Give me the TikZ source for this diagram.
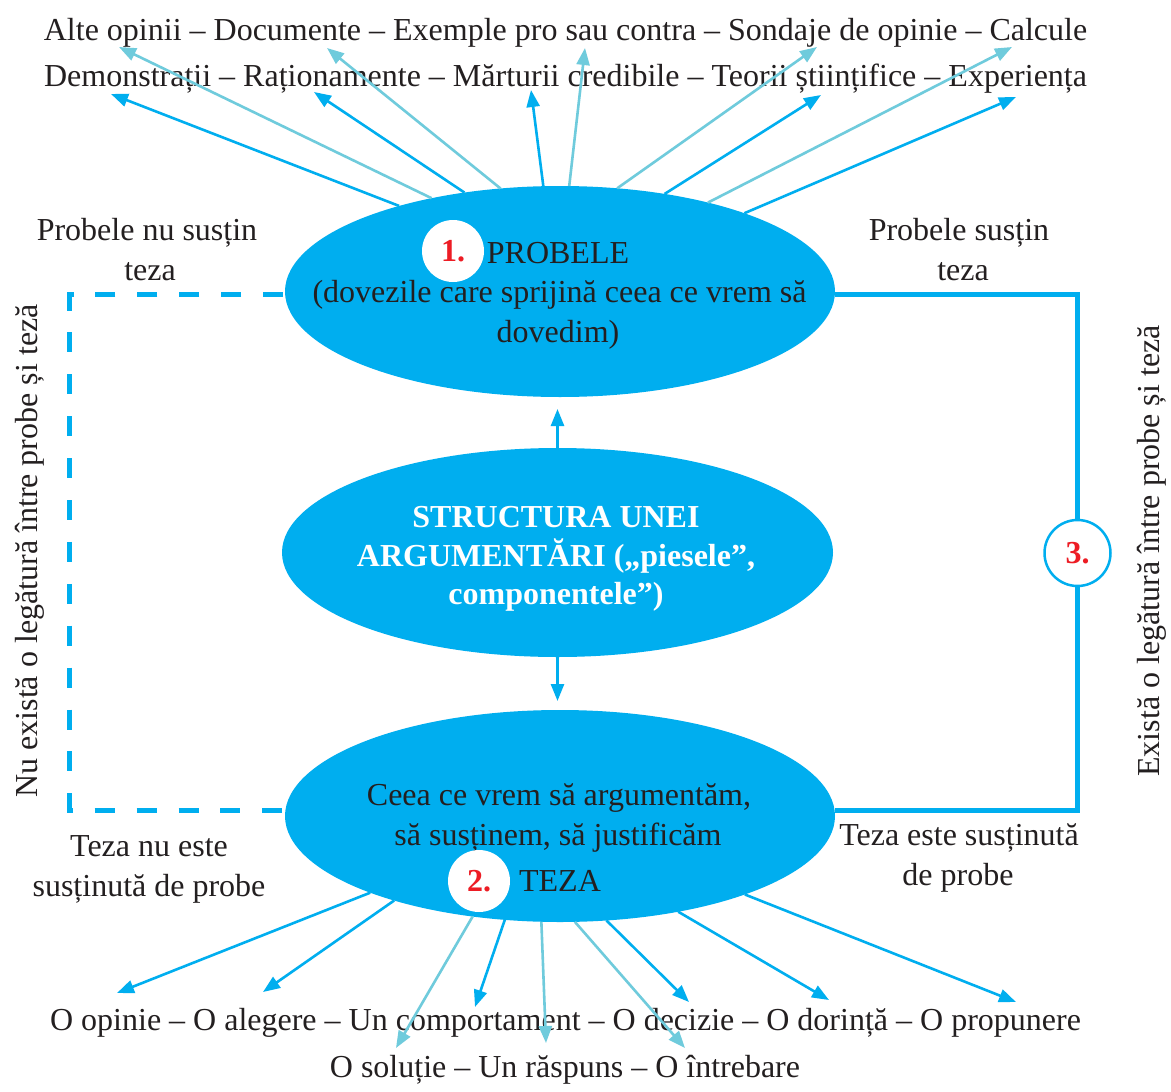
\documentclass[tikz,border=0pt]{standalone}
\usepackage{fontspec}
\setmainfont{Liberation Serif}
\usetikzlibrary{arrows.meta,shapes.geometric,backgrounds}
\definecolor{cyanB}{HTML}{00AEEF}
\definecolor{cyanL}{HTML}{6FCBDC}
\definecolor{ink}{HTML}{231F20}
\definecolor{redN}{HTML}{ED1C24}
\begin{document}
\begin{tikzpicture}[x=1pt,y=-1pt,
  txt/.style={font=\fontsize{32}{40}\selectfont, text=ink, inner sep=0pt, anchor=base},
  wtxt/.style={font=\fontsize{32}{40}\selectfont\bfseries, text=white, inner sep=0pt, anchor=base},
  oval/.style={ellipse, fill=cyanB, minimum width=550pt, minimum height=211pt, inner sep=0pt, outer sep=0pt},
  darr/.style={draw=cyanB, line width=2.6pt, -{Triangle[length=17pt,width=13pt]}},
  larr/.style={draw=cyanL, line width=2.6pt, -{Triangle[length=17pt,width=13pt]}},
  numc/.style={circle, fill=white, minimum size=62pt, inner sep=0pt, text=redN, font=\fontsize{32}{40}\selectfont\bfseries},
  link/.style={draw=cyanB, line width=5pt},
]
\fill[white] (0,0) rectangle (1171,1092);
\useasboundingbox (0,0) rectangle (1171,1092);

% ellipses
\node[oval] (probe) at (560,291.5) {};
\node[oval, minimum width=551pt, minimum height=209pt] (mid) at (557.5,552.5) {};
\node[oval, minimum height=212pt] (teza) at (560,816) {};

% helper coordinates
\coordinate (yT) at (0,294.5);
\coordinate (yB) at (0,810);
\coordinate (dl) at (69.5,550);
\coordinate (dr) at (1077.5,553);

% side connectors
\draw[link, dash pattern=on 20pt off 21.9pt, dash phase=39.9pt] (probe.west |- yT) -| (dl) |- (teza.west |- yB);
\draw[link] (probe.east |- yT) -| (dr) |- (teza.east |- yB);
\node[circle, fill=white, draw=cyanB, line width=2.5pt, minimum size=66pt, inner sep=0pt, text=redN, font=\fontsize{32}{40}\selectfont\bfseries] (n3) at (dr) {3.};

% texts top
\node[txt] (top1) at (565.5,40) {Alte opinii – Documente – Exemple pro sau contra – Sondaje de opinie – Calcule};
\node[txt] (top2) at (565.5,86) {Demonstrații – Raționamente – Mărturii credibile – Teorii științifice – Experiența};
% texts bottom
\node[txt] (bot1) at (565.5,1030) {O opinie – O alegere – Un comportament – O decizie – O dorință – O propunere};
\node[txt] (bot2) at (565,1077) {O soluție – Un răspuns – O întrebare};

% side labels
\node[txt] (l1a) at (147,240) {Probele nu susțin};
\node[txt] (l1b) at (150,280) {teza};
\node[txt] (r1a) at (959,240) {Probele susțin};
\node[txt] (r1b) at (963,280) {teza};
\node[txt] (l2a) at (149,856) {Teza nu este};
\node[txt] (l2b) at (149,896) {susținută de probe};
\node[txt] (r2a) at (959,845) {Teza este susținută};
\node[txt] (r2b) at (958,885) {de probe};
\node[txt, anchor=center, rotate=90] (vl) at (30,551) {Nu există o legătură între probe și teză};
\node[txt, anchor=center, rotate=90] (vr) at (1152,551) {Există o legătură între probe și teză};

% inside ellipses
\node[numc] (n1) at (453,251) {1.};
\node[txt] (p1) at (558,263) {PROBELE};
\node[txt] (p2) at (559.5,302) {(dovezile care sprijină ceea ce vrem să};
\node[txt] (p3) at (558,342) {dovedim)};
\node[wtxt] (m1) at (556,527) {STRUCTURA UNEI};
\node[wtxt] (m2) at (556,566) {ARGUMENTĂRI („piesele”,};
\node[wtxt] (m3) at (556,604) {componentele”)};
\node[txt] (z1) at (559,805) {Ceea ce vrem să argumentăm,};
\node[txt] (z2) at (558,845) {să susținem, să justificăm};
\node[numc] (n2) at (479,881) {2.};
\node[txt] (z3) at (560,891) {TEZA};

% middle arrows (vertical)
\draw[darr, shorten >=12pt] (mid.north) -- (mid.north |- probe.south);
\draw[darr, shorten >=9pt] (mid.south) -- (mid.south |- teza.north);

% tips top
\coordinate (t1) at (111,94);
\coordinate (t2) at (119,47);
\coordinate (t3) at (314,92);
\coordinate (t4) at (327,48);
\coordinate (t5) at (531,90);
\coordinate (t6) at (585,48);
\coordinate (t7) at (817,47);
\coordinate (t8) at (821,95);
\coordinate (t9) at (1012,47);
\coordinate (t10) at (1016,97);
% tips bottom
\coordinate (b1) at (117,993);
\coordinate (b2) at (263,992);
\coordinate (b3) at (396,1048);
\coordinate (b4) at (475,1007);
\coordinate (b5) at (546,1043);
\coordinate (b6) at (685,1048);
\coordinate (b7) at (689,1002);
\coordinate (b8) at (829,1000);
\coordinate (b9) at (1016,1002);

\draw[darr] (probe.152.3) -- (t1);
\draw[larr] (probe.144.0) -- (t2);
\draw[darr] (probe.134.7) -- (t3);
\draw[larr] (probe.120.4) -- (t4);
\draw[darr] (probe.99.5) -- (t5);
\draw[larr] (probe.85.7) -- (t6);
\draw[larr] (probe.61.9) -- (t7);
\draw[darr] (probe.43.1) -- (t8);
\draw[larr] (probe.31.0) -- (t9);
\draw[darr] (probe.23.6) -- (t10);

\draw[darr] (teza.202.4) -- (b1);
\draw[darr] (teza.207.4) -- (b2);
\draw[larr] (teza.229.9) -- (b3);
\draw[darr] (teza.242.6) -- (b4);
\draw[larr] (teza.260.9) -- (b5);
\draw[larr] (teza.278.1) -- (b6);
\draw[darr] (teza.294.3) -- (b7);
\draw[darr] (teza.321.1) -- (b8);
\draw[darr] (teza.337.9) -- (b9);
\end{tikzpicture}
\end{document}
